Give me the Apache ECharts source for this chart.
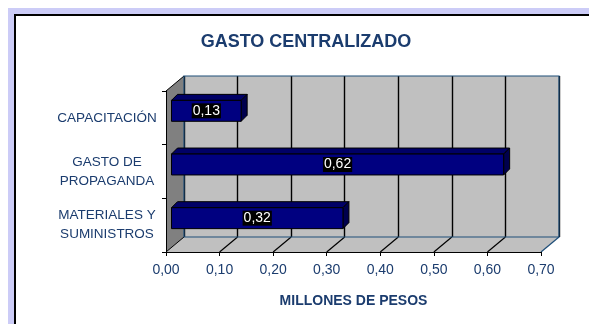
<!DOCTYPE html>
<html>
<head>
<meta charset="utf-8">
<script src="https://cdn.jsdelivr.net/npm/echarts@6/dist/echarts.min.js"></script>
<style>
  html, body { margin: 0; padding: 0; background: #ffffff; }
  #chart { width: 589px; height: 324px; }
</style>
</head>
<body>
<div id="chart"></div>
<script>
// Spending categories and their amounts (millions of pesos)
const categories = ['CAPACITACIÓN', 'GASTO DE\nPROPAGANDA', 'MATERIALES Y\nSUMINISTROS'];
const values = [0.13, 0.62, 0.32];

// Value axis range
const axisMin = 0;
const axisMax = 0.7;
const axisStep = 0.1;

const FONT = '"Liberation Sans", Arial, sans-serif';
const TEXT_BLUE = '#1B3C6E';
const EDGE_BLUE = '#1F4E79';
const DEPTH = [18, -15];       // front plane -> back wall offset of the 3D box
const BAR_SHIFT = [5.5, -7];   // bar front face offset inside the box
const BAR_DEPTH = [6, -6];     // bar thickness
const BAR_FACE = 0.39;         // bar face height as share of a category band

function fmt(v) { return v.toFixed(2).replace('.', ','); }

// Floor, side wall and back-wall outline of the 3D box
function renderBox(params, api) {
  const cs = params.coordSys;
  const x0 = cs.x, x1 = cs.x + cs.width, yt = cs.y, yb = cs.y + cs.height;
  const dx = DEPTH[0], dy = DEPTH[1];
  const children = [];
  children.push({
    type: 'polygon',
    shape: { points: [[x0, yb], [x1, yb], [x1 + dx, yb + dy], [x0 + dx, yb + dy]] },
    style: { fill: '#C0C0C0' }
  });
  const steps = Math.round((axisMax - axisMin) / axisStep);
  for (let i = 1; i <= steps; i++) {
    const px = api.coord([axisMin + i * axisStep, 0])[0];
    children.push({
      type: 'line',
      shape: { x1: px, y1: yb, x2: px + dx, y2: yb + dy },
      style: { stroke: i === steps ? EDGE_BLUE : '#000000', lineWidth: 1.2 }
    });
  }
  children.push({
    type: 'polygon',
    shape: { points: [[x0, yt], [x0 + dx, yt + dy], [x0 + dx, yb + dy], [x0, yb]] },
    style: { fill: '#808080' }
  });
  children.push({
    type: 'line',
    shape: { x1: x0, y1: yt, x2: x0 + dx, y2: yt + dy },
    style: { stroke: '#000000', lineWidth: 1 }
  });
  children.push({
    type: 'line',
    shape: { x1: x0, y1: yb, x2: x0 + dx, y2: yb + dy },
    style: { stroke: '#000000', lineWidth: 1 }
  });
  children.push({
    type: 'rect',
    shape: { x: x0 + dx, y: yt + dy, width: cs.width, height: cs.height },
    style: { fill: null, stroke: EDGE_BLUE, lineWidth: 1.2 }
  });
  return { type: 'group', children: children };
}

// 3D bar with value label
function renderBar(params, api) {
  const v = api.value(0);
  const idx = api.value(1);
  const s = api.coord([axisMin, idx]);
  const e = api.coord([v, idx]);
  const band = api.size([0, 1])[1];
  const h = band * BAR_FACE;
  const xl = s[0] + BAR_SHIFT[0];
  const xr = e[0] + BAR_SHIFT[0];
  const yc = s[1] + BAR_SHIFT[1];
  const yt = yc - h / 2, yb = yc + h / 2;
  const bx = BAR_DEPTH[0], by = BAR_DEPTH[1];
  return {
    type: 'group',
    children: [
      {
        type: 'polygon',
        shape: { points: [[xl, yt], [xl + bx, yt + by], [xr + bx, yt + by], [xr, yt]] },
        style: { fill: '#000066', stroke: '#000000', lineWidth: 1 }
      },
      {
        type: 'polygon',
        shape: { points: [[xr, yt], [xr + bx, yt + by], [xr + bx, yb + by], [xr, yb]] },
        style: { fill: '#00004D', stroke: '#000000', lineWidth: 1 }
      },
      {
        type: 'rect',
        shape: { x: xl, y: yt, width: xr - xl, height: h },
        style: { fill: '#000080', stroke: '#000000', lineWidth: 1 }
      },
      {
        type: 'text',
        x: (xl + xr) / 2,
        y: yc,
        style: {
          text: fmt(v),
          fill: '#ffffff',
          fontSize: 14,
          fontFamily: FONT,
          align: 'center',
          verticalAlign: 'middle',
          backgroundColor: '#000000',
          padding: [1, 1, 0, 1]
        }
      }
    ]
  };
}

const chart = echarts.init(document.getElementById('chart'), null, { renderer: 'canvas' });

chart.setOption({
  animation: false,
  backgroundColor: '#ffffff',
  graphic: [
    { type: 'rect', z: -100, shape: { x: 8, y: 8, width: 700, height: 400 }, style: { fill: '#CCCCF7' } },
    { type: 'rect', z: -99, shape: { x: 15, y: 15, width: 700, height: 400 }, style: { fill: '#ffffff', stroke: '#000000', lineWidth: 2 } }
  ],
  title: {
    text: 'GASTO CENTRALIZADO',
    left: 306,
    top: 33,
    padding: 0,
    textAlign: 'center',
    textStyle: { fontSize: 18, fontWeight: 'bold', color: TEXT_BLUE, fontFamily: FONT }
  },
  grid: [
    { left: 184, top: 76, width: 375, height: 161, show: true, backgroundColor: '#C0C0C0', borderWidth: 0, outerBoundsMode: 'none' },
    { left: 166, top: 91, width: 375, height: 161, show: false, outerBoundsMode: 'none' }
  ],
  xAxis: [
    {
      gridIndex: 0, type: 'value', min: axisMin, max: axisMax, interval: axisStep,
      axisLine: { show: false }, axisTick: { show: false }, axisLabel: { show: false },
      splitLine: { show: true, lineStyle: { color: '#000000', width: 1.4 } }
    },
    {
      gridIndex: 1, type: 'value', min: axisMin, max: axisMax, interval: axisStep, z: 5,
      axisLine: { show: true, lineStyle: { color: '#000000', width: 1 } },
      axisTick: { show: true, length: 4, lineStyle: { color: '#000000' } },
      axisLabel: { formatter: fmt, fontSize: 14, color: TEXT_BLUE, fontFamily: FONT, margin: 11 },
      splitLine: { show: false },
      name: 'MILLONES DE PESOS',
      nameLocation: 'middle',
      nameGap: 42,
      nameTextStyle: { fontSize: 14, fontWeight: 'bold', color: TEXT_BLUE, fontFamily: FONT }
    }
  ],
  yAxis: [
    { gridIndex: 0, type: 'category', data: categories, inverse: true, show: false },
    {
      gridIndex: 1, type: 'category', data: categories, inverse: true, z: 5,
      axisLine: { show: true, lineStyle: { color: '#000000', width: 1 } },
      axisTick: { show: true, length: 4, lineStyle: { color: '#000000' } },
      axisLabel: { align: 'center', margin: 59, fontSize: 13.5, lineHeight: 19, color: TEXT_BLUE, fontFamily: FONT },
      splitLine: { show: false }
    }
  ],
  series: [
    {
      type: 'custom',
      xAxisIndex: 1, yAxisIndex: 1,
      z: 1,
      silent: true,
      renderItem: renderBox,
      data: [[axisMin, 0]]
    },
    {
      type: 'custom',
      xAxisIndex: 1, yAxisIndex: 1,
      z: 3,
      renderItem: renderBar,
      data: values.map(function (v, i) { return [v, i]; })
    }
  ]
});
</script>
</body>
</html>
